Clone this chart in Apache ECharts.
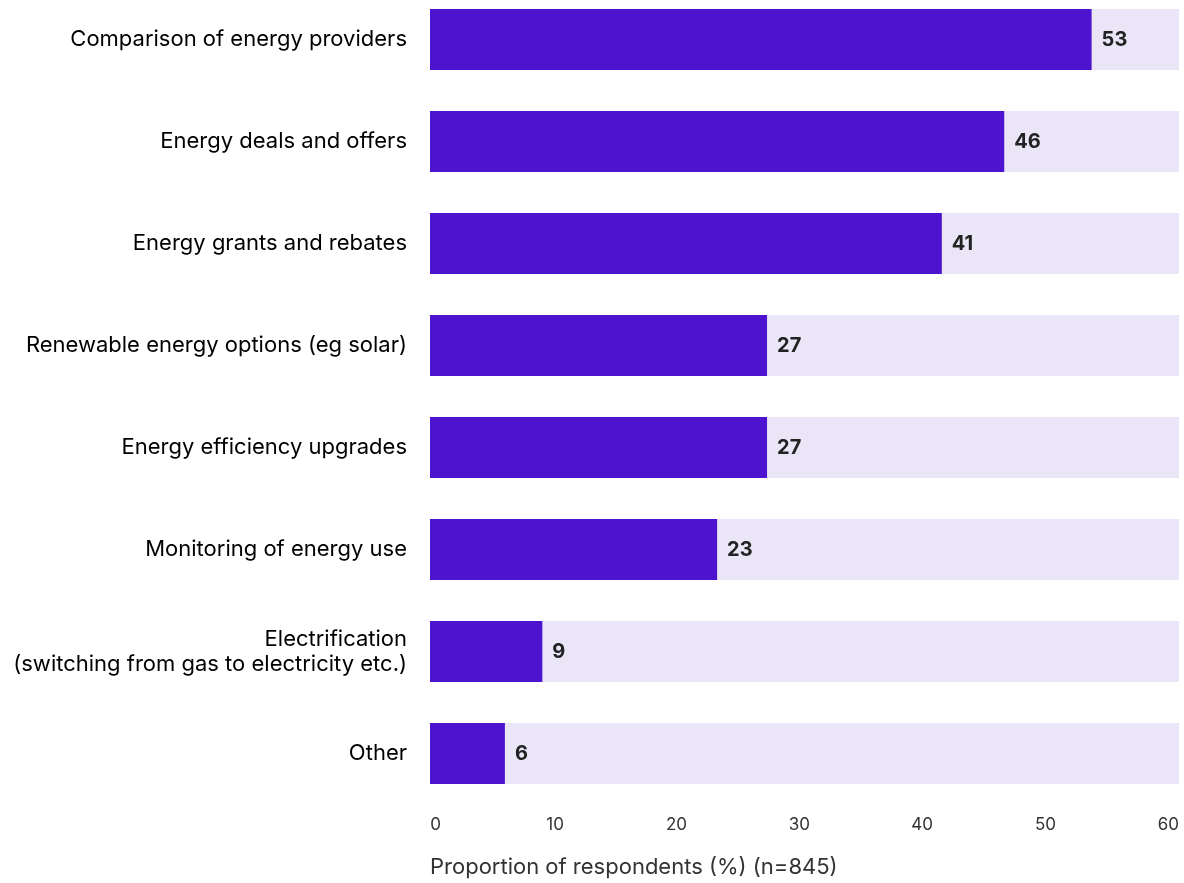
<!DOCTYPE html>
<html>
<head>
<meta charset="utf-8">
<script src="https://cdn.jsdelivr.net/npm/echarts@6/dist/echarts.min.js"></script>
<style>
  html, body { margin: 0; padding: 0; background: #fff; }
  #chart { width: 1184px; height: 883px; }
</style>
</head>
<body>
<div id="chart"></div>
<script>
// Survey: which energy topics respondents want information about
const categories = [
  'Comparison of energy providers',
  'Energy deals and offers',
  'Energy grants and rebates',
  'Renewable energy options (eg solar)',
  'Energy efficiency upgrades',
  'Monitoring of energy use',
  'Electrification\n(switching from gas to electricity etc.)',
  'Other'
];
const shares = [53, 46, 41, 27, 27, 23, 9, 6];
const axisMax = 60;
const axisStep = 10;
const axisTitle = 'Proportion of respondents (%) (n=845)';

const FONT = 'Inter, "Noto Sans", sans-serif';
const chart = echarts.init(document.getElementById('chart'), null, { renderer: 'canvas' });

chart.setOption({
  animation: false,
  backgroundColor: '#ffffff',
  title: {
    text: axisTitle,
    left: 425,
    top: 851,
    textStyle: { fontFamily: FONT, fontSize: 22, fontWeight: 'normal', color: '#333333' }
  },
  grid: [
    { left: 430, right: 5, top: -11.5, height: 816, containLabel: false, outerBoundsMode: 'none' },
    { left: 441, right: 5, top: -11.5, height: 816, containLabel: false, outerBoundsMode: 'none' }
  ],
  xAxis: [
    {
      gridIndex: 0, type: 'value', min: 0, max: axisMax, interval: axisStep,
      axisLine: { show: false }, axisTick: { show: false },
      axisLabel: { show: false }, splitLine: { show: false }
    },
    {
      // tick labels sit right-aligned along their own slightly offset scale
      gridIndex: 1, type: 'value', min: 0, max: axisMax, interval: axisStep,
      axisLine: { show: false }, axisTick: { show: false }, splitLine: { show: false },
      axisLabel: {
        align: 'right', margin: 12,
        fontFamily: FONT, fontSize: 17, color: '#333333'
      }
    }
  ],
  yAxis: [
    {
      gridIndex: 0, type: 'category', data: categories, inverse: true,
      axisLine: { show: false }, axisTick: { show: false },
      axisLabel: {
        margin: 23, fontFamily: FONT, fontSize: 22, color: '#000000',
        align: 'right', lineHeight: 25
      }
    },
    {
      gridIndex: 1, type: 'category', data: categories, inverse: true, show: false
    }
  ],
  series: [
    {
      type: 'bar',
      xAxisIndex: 0, yAxisIndex: 0,
      data: shares,
      barCategoryGap: '40%',
      showBackground: true,
      backgroundStyle: { color: '#EAE6F8' },
      itemStyle: { color: '#4E13CF' },
      label: {
        show: true, position: 'right', distance: 10,
        fontFamily: FONT, fontSize: 20, fontWeight: 'bold', color: '#222222',
        formatter: p => String(p.value)
      }
    }
  ]
});
</script>
</body>
</html>
